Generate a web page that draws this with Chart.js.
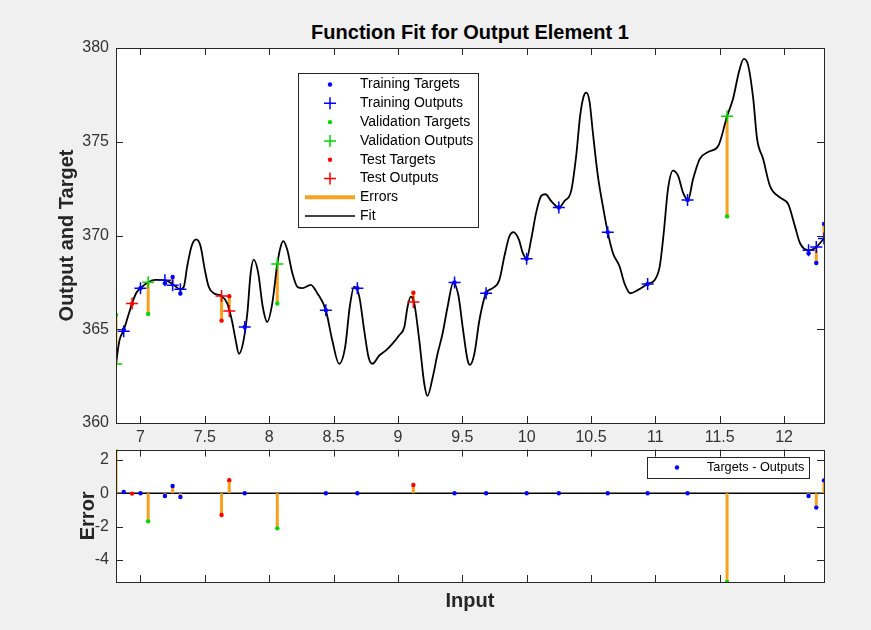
<!DOCTYPE html>
<html>
<head>
<meta charset="utf-8">
<script src="https://cdn.jsdelivr.net/npm/chart.js@4.4.1/dist/chart.umd.min.js"></script>
<style>
  body { margin: 0; background: #f0f0f0; width: 871px; height: 630px; overflow: hidden; position: relative;
         font-family: "Liberation Sans", Arial, sans-serif; }
  canvas { position: absolute; left: 0; }
  #fitChart { top: 0; }
  #errChart { top: 433px; }
  #title { position: absolute; left: 116px; width: 708px; top: 21px; line-height: 22px; text-align: center;
           font-weight: bold; font-size: 20px; color: #000; }
</style>
</head>
<body>
<div id="title">Function Fit for Output Element 1</div>
<canvas id="fitChart" width="871" height="450"></canvas>
<canvas id="errChart" width="871" height="197"></canvas>
<script>
// fit curve
const fitX = [6.81, 6.837, 6.87, 6.91, 6.935, 6.966, 7.00, 7.06, 7.117, 7.19, 7.25, 7.31, 7.337, 7.363, 7.397,
  7.433, 7.467, 7.50, 7.53, 7.57, 7.63, 7.674, 7.71, 7.74, 7.765, 7.796, 7.83, 7.856, 7.88, 7.915, 7.95, 7.985,
  8.024, 8.063, 8.09, 8.11, 8.14, 8.18, 8.22, 8.258, 8.323, 8.374, 8.44, 8.49, 8.543, 8.59, 8.626, 8.66, 8.70,
  8.738, 8.772, 8.802, 8.855, 8.907, 8.958, 9.01, 9.05, 9.075, 9.10, 9.127, 9.166, 9.205, 9.23, 9.27, 9.308,
  9.347, 9.386, 9.43, 9.47, 9.503, 9.542, 9.56, 9.594, 9.633, 9.685, 9.736, 9.788, 9.827, 9.866, 9.897, 9.939,
  9.97, 10.00, 10.035, 10.074, 10.113, 10.146, 10.19, 10.25, 10.294, 10.346, 10.385, 10.416, 10.442, 10.463,
  10.489, 10.514, 10.553, 10.592, 10.63, 10.67, 10.722, 10.76, 10.805, 10.865, 10.94, 10.995, 11.034, 11.065,
  11.098, 11.137, 11.176, 11.215, 11.254, 11.293, 11.345, 11.41, 11.49, 11.557, 11.604, 11.65, 11.687, 11.72,
  11.76, 11.79, 11.837, 11.89, 11.967, 12.032, 12.084, 12.123, 12.19, 12.25, 12.31];
const fitY = [363.15, 364.41, 364.95, 365.84, 366.38, 366.92, 367.19, 367.51, 367.63, 367.62, 367.40, 367.13,
  367.27, 368.35, 369.43, 369.79, 369.43, 368.17, 367.27, 366.92, 366.77, 366.38, 365.48, 364.41, 363.69, 364.23,
  365.84, 367.99, 368.71, 367.99, 366.20, 365.39, 366.38, 368.48, 369.43, 369.70, 369.25, 367.99, 367.25, 367.19,
  367.37, 366.92, 366.02, 364.41, 363.16, 364.05, 366.20, 367.27, 366.74, 364.95, 363.51, 363.16, 363.60, 363.87,
  364.23, 364.68, 365.12, 366.20, 366.74, 366.38, 364.41, 362.08, 361.45, 362.43, 363.69, 364.77, 366.20, 367.49,
  366.80, 365.12, 363.33, 363.10, 363.69, 365.48, 366.92, 367.19, 367.63, 368.89, 369.96, 370.18, 369.79, 369.07,
  368.76, 369.79, 371.22, 372.11, 372.20, 371.84, 371.49, 371.84, 372.38, 374.26, 376.41, 377.40, 377.62, 377.13,
  375.52, 373.19, 371.58, 370.18, 369.07, 368.35, 367.45, 366.92, 367.10, 367.42, 367.63, 368.35, 370.14, 372.47,
  373.46, 373.19, 372.29, 371.90, 373.01, 374.09, 374.45, 374.80, 376.36, 377.31, 378.75, 379.42, 379.10, 377.31,
  375.16, 374.09, 372.65, 372.03, 371.67, 370.50, 369.60, 369.21, 369.39, 369.84];

// training / validation / test samples
const trainX = [6.87, 7.00, 7.19, 7.25, 7.31, 7.81, 8.44, 8.685, 9.44, 9.685, 10.00, 10.25, 10.63, 10.94, 11.25, 12.19, 12.25, 12.31];
const trainOutputs = [364.90, 367.19, 367.62, 367.35, 367.13, 365.12, 366.02, 367.19, 367.49, 366.92, 368.76, 371.49, 370.18, 367.42, 371.90, 369.21, 369.39, 369.84];
const trainTargets = [364.98, 367.19, 367.46, 367.79, 366.91, 365.12, 366.02, 367.19, 367.49, 366.92, 368.76, 371.49, 370.18, 367.42, 371.90, 369.05, 368.53, 370.62];
const valX = [6.81, 7.06, 8.063, 11.557];
const valOutputs = [363.15, 367.51, 368.48, 376.36];
const valTargets = [365.78, 365.82, 366.37, 371.02];
const testX = [6.935, 7.63, 7.69, 9.12];
const testOutputs = [366.38, 366.77, 365.97, 366.45];
const testTargets = [366.36, 365.46, 366.76, 366.95];

const xTicks = [7, 7.5, 8, 8.5, 9, 9.5, 10, 10.5, 11, 11.5, 12];
const fitYTicks = [360, 365, 370, 375, 380];
const errYTicks = [-4, -2, 0, 2];
const xMin = 6.81, xMax = 12.31;

const BLUE = '#0000ff', GREEN = '#00d800', RED = '#ff0000', ORANGE = '#f7a11c', AXIS = '#262626';
Chart.defaults.font.family = '"Liberation Sans", Arial, sans-serif';

function pts(xs, ys) { return xs.map((x, i) => ({ x: x, y: ys[i] })); }
function diff(a, b) { return a.map((v, i) => v - b[i]); }
function segs(xs, a, b) {
  return xs.flatMap((x, i) => [{ x: x, y: a[i] }, { x: x, y: b[i] }, { x: x, y: null }]);
}
function zeros(xs) { return xs.map(() => 0); }

const trainErr = diff(trainTargets, trainOutputs);
const valErr = diff(valTargets, valOutputs);
const testErr = diff(testTargets, testOutputs);
const allErr = trainErr.concat(valErr, testErr);
const errMin = Math.min(...allErr), errMax = Math.max(...allErr);

// white plot area, box and inward ticks like matlab
const boxTicks = {
  id: 'boxTicks',
  beforeDatasetsDraw(chart) {
    const { ctx, chartArea: a } = chart;
    ctx.save();
    ctx.fillStyle = '#fff';
    ctx.fillRect(a.left, a.top, a.width, a.height);
    ctx.restore();
  },
  afterDraw(chart) {
    const { ctx, chartArea: a, scales: { x, y } } = chart;
    const len = 7;
    ctx.save();
    ctx.strokeStyle = AXIS;
    ctx.lineWidth = 1;
    ctx.beginPath();
    x.ticks.forEach(t => {
      const px = Math.round(x.getPixelForValue(t.value)) + 0.5;
      ctx.moveTo(px, a.bottom); ctx.lineTo(px, a.bottom - len);
      ctx.moveTo(px, a.top); ctx.lineTo(px, a.top + len);
    });
    y.ticks.forEach(t => {
      const py = Math.round(y.getPixelForValue(t.value)) + 0.5;
      ctx.moveTo(a.left, py); ctx.lineTo(a.left + len, py);
      ctx.moveTo(a.right, py); ctx.lineTo(a.right - len, py);
    });
    ctx.stroke();
    ctx.strokeRect(Math.round(a.left) + 0.5, Math.round(a.top) + 0.5, Math.round(a.width), Math.round(a.height));
    ctx.restore();
  }
};

function drawMarker(ctx, kind, color, cx, cy, lw) {
  ctx.strokeStyle = color; ctx.fillStyle = color;
  if (kind === 'dot') {
    ctx.beginPath(); ctx.arc(cx, cy, 2.2, 0, Math.PI * 2); ctx.fill();
  } else if (kind === 'plus') {
    ctx.lineWidth = 1.5; ctx.beginPath();
    ctx.moveTo(cx - 6, cy); ctx.lineTo(cx + 6, cy); ctx.moveTo(cx, cy - 6); ctx.lineTo(cx, cy + 6);
    ctx.stroke();
  } else {
    ctx.lineWidth = lw; ctx.beginPath(); ctx.moveTo(cx - 25, cy); ctx.lineTo(cx + 25, cy); ctx.stroke();
  }
}

function boxLegend(id, items, box) {
  return {
    id: id,
    afterDraw(chart) {
      const ctx = chart.ctx;
      ctx.save();
      ctx.fillStyle = '#fff';
      ctx.fillRect(box.left, box.top, box.width, box.height);
      ctx.strokeStyle = AXIS; ctx.lineWidth = 1;
      ctx.strokeRect(box.left + 0.5, box.top + 0.5, box.width, box.height);
      ctx.font = box.font + 'px "Liberation Sans", Arial, sans-serif';
      ctx.textBaseline = 'middle';
      items.forEach((it, i) => {
        const cy = box.first + i * box.step;
        drawMarker(ctx, it.kind, it.color, box.marker, cy, it.lw);
        ctx.fillStyle = '#000';
        ctx.fillText(it.label, box.text, cy);
      });
      ctx.restore();
    }
  };
}

const fitLegend = boxLegend('fitLegend', [
  { label: 'Training Targets', kind: 'dot', color: BLUE },
  { label: 'Training Outputs', kind: 'plus', color: BLUE },
  { label: 'Validation Targets', kind: 'dot', color: GREEN },
  { label: 'Validation Outputs', kind: 'plus', color: GREEN },
  { label: 'Test Targets', kind: 'dot', color: RED },
  { label: 'Test Outputs', kind: 'plus', color: RED },
  { label: 'Errors', kind: 'line', color: ORANGE, lw: 4 },
  { label: 'Fit', kind: 'line', color: '#000', lw: 1.5 }
], { left: 298, top: 73, width: 180, height: 154, first: 84.5, step: 18.8, marker: 330, text: 360, font: 14 });

// bottom canvas starts at page y 433
const errLegend = boxLegend('errLegend', [
  { label: 'Targets - Outputs', kind: 'dot', color: BLUE }
], { left: 647, top: 24, width: 162, height: 21, first: 34.5, step: 0, marker: 677, text: 707, font: 12.7 });

function setTicks(vals) { return s => { s.ticks = vals.map(v => ({ value: v })); }; }

const dotSet = (data, color) => ({ data: data, pointStyle: 'circle', pointRadius: 2.2, pointBackgroundColor: color, pointBorderWidth: 0, showLine: false });
const plusSet = (data, color) => ({ data: data, pointStyle: 'cross', pointRadius: 6, pointBorderColor: color, pointBorderWidth: 1.5, showLine: false });
const noGrid = { display: false, drawTicks: false };
const axisTitle = text => ({ display: true, text: text, font: { size: 20, weight: 'bold' }, color: AXIS, padding: 0 });

new Chart(document.getElementById('fitChart'), {
  type: 'scatter',
  data: {
    datasets: [
      plusSet(pts(trainX, trainOutputs), BLUE),
      plusSet(pts(valX, valOutputs), GREEN),
      plusSet(pts(testX, testOutputs), RED),
      dotSet(pts(trainX, trainTargets), BLUE),
      dotSet(pts(valX, valTargets), GREEN),
      dotSet(pts(testX, testTargets), RED),
      { data: pts(fitX, fitY), showLine: true, borderColor: '#000', borderWidth: 1.8, pointRadius: 0,
        cubicInterpolationMode: 'monotone' },
      { data: segs(trainX, trainTargets, trainOutputs).concat(segs(valX, valTargets, valOutputs), segs(testX, testTargets, testOutputs)),
        showLine: true, spanGaps: false, borderColor: ORANGE, borderWidth: 3, pointRadius: 0 }
    ]
  },
  options: {
    responsive: false, animation: false, events: [],
    layout: { padding: { left: 55, top: 48, right: 47, bottom: 0 } },
    plugins: { legend: { display: false }, tooltip: { enabled: false } },
    scales: {
      x: {
        type: 'linear', min: xMin, max: xMax, afterBuildTicks: setTicks(xTicks),
        afterFit: s => { s.height = 27; },
        grid: noGrid, border: { display: false },
        ticks: { callback: v => String(v), font: { size: 16 }, color: '#333', padding: 5, maxRotation: 0, autoSkip: false }
      },
      y: {
        min: 360, max: 380, afterBuildTicks: setTicks(fitYTicks),
        afterFit: s => { s.width = 61; },
        grid: noGrid, border: { display: false },
        ticks: { font: { size: 16 }, color: '#333', padding: 7 },
        title: axisTitle('Output and Target')
      }
    }
  },
  plugins: [boxTicks, fitLegend]
});

new Chart(document.getElementById('errChart'), {
  type: 'scatter',
  data: {
    datasets: [
      dotSet(pts(trainX, trainErr), BLUE),
      dotSet(pts(valX, valErr), GREEN),
      dotSet(pts(testX, testErr), RED),
      { data: segs(trainX, zeros(trainX), trainErr).concat(segs(valX, zeros(valX), valErr), segs(testX, zeros(testX), testErr)),
        showLine: true, spanGaps: false, borderColor: ORANGE, borderWidth: 3, pointRadius: 0 },
      { data: [{ x: xMin, y: 0 }, { x: xMax, y: 0 }], showLine: true, borderColor: '#000', borderWidth: 1.5, pointRadius: 0 }
    ]
  },
  options: {
    responsive: false, animation: false, events: [],
    layout: { padding: { left: 76, top: 16, right: 47, bottom: 17 } },
    plugins: { legend: { display: false }, tooltip: { enabled: false } },
    scales: {
      x: {
        type: 'linear', min: xMin, max: xMax, afterBuildTicks: setTicks(xTicks),
        afterFit: s => { s.height = 31; },
        grid: noGrid, border: { display: false },
        ticks: { display: false },
        title: axisTitle('Input')
      },
      y: {
        min: errMin, max: errMax, afterBuildTicks: setTicks(errYTicks),
        afterFit: s => { s.width = 40; },
        grid: noGrid, border: { display: false },
        ticks: { font: { size: 16 }, color: '#333', padding: 7 },
        title: axisTitle('Error')
      }
    }
  },
  plugins: [boxTicks, errLegend]
});
</script>
</body>
</html>
